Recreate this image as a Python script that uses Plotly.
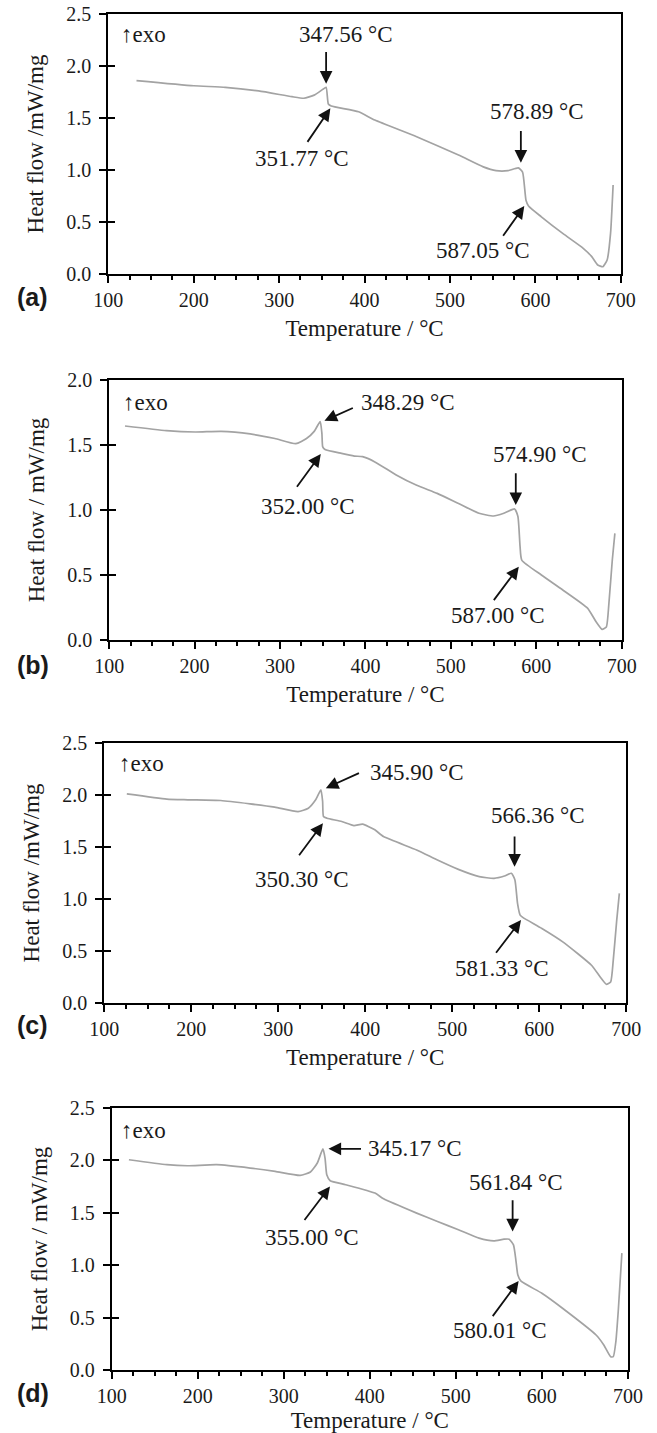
import plotly.graph_objects as go

# ---------------- data ----------------
T_a = [133, 200, 237, 276, 315, 329, 341, 351, 355, 357.6, 361, 393, 412, 461, 510, 539, 554, 568, 580, 585, 589, 592, 607, 632, 656, 666, 673, 679, 684, 688, 691]
HF_a = [1.86, 1.81, 1.795, 1.76, 1.705, 1.69, 1.72, 1.775, 1.795, 1.635, 1.615, 1.56, 1.48, 1.32, 1.144, 1.03, 0.994, 0.994, 1.02, 0.98, 0.71, 0.654, 0.55, 0.39, 0.247, 0.167, 0.087, 0.07, 0.135, 0.39, 0.856]

T_b = [118.5, 167, 201, 231, 265, 294, 318.5, 331, 340, 347, 349, 350, 352.7, 372, 387, 396.6, 411, 436, 460, 484, 509, 533, 550, 562, 574.6, 578.5, 581, 583, 606, 631, 660, 670, 677, 682, 685, 689, 692]
HF_b = [1.646, 1.61, 1.60, 1.605, 1.585, 1.55, 1.51, 1.55, 1.605, 1.68, 1.59, 1.485, 1.465, 1.435, 1.415, 1.41, 1.37, 1.27, 1.19, 1.128, 1.05, 0.975, 0.954, 0.975, 1.008, 0.95, 0.72, 0.615, 0.50, 0.385, 0.245, 0.14, 0.082, 0.10, 0.28, 0.615, 0.82]

T_c = [126, 172, 196, 234, 267.6, 296, 322.7, 334.6, 343, 349, 351, 352, 356, 373, 387, 397, 411, 421, 459, 483, 507, 531, 548, 560, 568, 572, 575, 578, 581, 603, 627, 660, 670, 677, 682, 685, 689, 692]
HF_c = [2.01, 1.96, 1.954, 1.947, 1.915, 1.883, 1.84, 1.873, 1.954, 2.05, 1.94, 1.793, 1.777, 1.745, 1.706, 1.72, 1.665, 1.60, 1.472, 1.375, 1.285, 1.215, 1.199, 1.221, 1.247, 1.183, 0.958, 0.845, 0.823, 0.717, 0.588, 0.363, 0.25, 0.18, 0.202, 0.41, 0.797, 1.054]

T_d = [120, 164, 188, 222, 261, 290, 319, 331, 339, 345.5, 348, 350, 354, 372, 406, 416, 454.5, 478.7, 503, 527, 544, 556, 562, 567, 570, 572, 575.5, 600, 624, 663, 672, 680, 683, 686, 689, 693]
HF_d = [2.006, 1.959, 1.949, 1.959, 1.927, 1.895, 1.857, 1.889, 1.975, 2.11, 2.02, 1.863, 1.806, 1.768, 1.688, 1.634, 1.497, 1.417, 1.338, 1.258, 1.232, 1.248, 1.248, 1.194, 1.035, 0.908, 0.85, 0.732, 0.589, 0.334, 0.239, 0.127, 0.127, 0.271, 0.589, 1.115]

panel_letters = ["(a)", "(b)", "(c)", "(d)"]
y_titles = ["Heat flow /mW/mg", "Heat flow / mW/mg", "Heat flow /mW/mg", "Heat flow / mW/mg"]
x_title = "Temperature / °C"
y_max = [2.5, 2.0, 2.5, 2.5]
x_range = [100, 700]

# annotation texts and their positions (data units)
labels_a = ["↑exo", "347.56 °C", "351.77 °C", "578.89 °C", "587.05 °C"]
lab_x_a = [141, 378, 327, 602, 539]
lab_y_a = [2.30, 2.30, 1.106, 1.567, 0.224]
labels_b = ["↑exo", "348.29 °C", "352.00 °C", "574.90 °C", "587.00 °C"]
lab_x_b = [143, 450, 333, 604, 555]
lab_y_b = [1.83, 1.83, 1.03, 1.43, 0.192]
labels_c = ["↑exo", "345.90 °C", "350.30 °C", "566.36 °C", "581.33 °C"]
lab_x_c = [143, 459, 327.5, 598, 557]
lab_y_c = [2.30, 2.217, 1.189, 1.803, 0.331]
labels_d = ["↑exo", "345.17 °C", "355.00 °C", "561.84 °C", "580.01 °C"]
lab_x_d = [137, 452, 333, 569.7, 551]
lab_y_d = [2.283, 2.11, 1.268, 1.793, 0.373]

# arrows: head (x, y) and tail (x, y)
arr_hx_a = [355, 360, 583, 587]
arr_hy_a = [1.83, 1.593, 1.07, 0.654]
arr_tx_a = [355, 332, 583, 561]
arr_ty_a = [2.15, 1.256, 1.39, 0.353]
arr_hx_b = [352, 347.7, 576, 579.5]
arr_hy_b = [1.687, 1.43, 1.038, 0.564]
arr_tx_b = [387, 318.5, 576, 549]
arr_ty_b = [1.79, 1.167, 1.295, 0.295]
arr_hx_c = [354.7, 351.4, 571.6, 579]
arr_hy_c = [2.066, 1.729, 1.311, 0.797]
arr_tx_c = [394.5, 322.7, 571.6, 549]
arr_ty_c = [2.217, 1.407, 1.616, 0.469]
arr_hx_d = [352, 353.7, 566, 573]
arr_hy_d = [2.11, 1.752, 1.322, 0.85]
arr_tx_d = [391.5, 322.8, 566, 541.6]
arr_ty_d = [2.11, 1.417, 1.634, 0.5]

# ---------------- layout geometry ----------------
W, H = 657, 1433
px_x = [(108.3, 620.8), (109.2, 621.7), (104.2, 626.3), (111.7, 627.9)]
px_y = [(14, 274), (380, 640), (743, 1003), (1108, 1370)]
letter_pos = [(32, 297), (33, 665), (32, 1025), (33, 1393)]

series_T = [T_a, T_b, T_c, T_d]
series_HF = [HF_a, HF_b, HF_c, HF_d]
all_labels = [(labels_a, lab_x_a, lab_y_a), (labels_b, lab_x_b, lab_y_b),
              (labels_c, lab_x_c, lab_y_c), (labels_d, lab_x_d, lab_y_d)]
all_arrows = [(arr_hx_a, arr_hy_a, arr_tx_a, arr_ty_a), (arr_hx_b, arr_hy_b, arr_tx_b, arr_ty_b),
              (arr_hx_c, arr_hy_c, arr_tx_c, arr_ty_c), (arr_hx_d, arr_hy_d, arr_tx_d, arr_ty_d)]

FONT = "Liberation Serif"
TXT = "#1a1a1a"
fig = go.Figure()
annotations = []
layout = {}

for i in range(4):
    n = i + 1
    xa = "x" if n == 1 else f"x{n}"
    ya = "y" if n == 1 else f"y{n}"
    yo = f"y{n + 4}"
    xdom = [px_x[i][0] / W, px_x[i][1] / W]
    ydom = [1 - px_y[i][1] / H, 1 - px_y[i][0] / H]

    fig.add_trace(go.Scatter(x=series_T[i], y=series_HF[i], mode="lines",
                             line=dict(color="#a3a3a3", width=1.7, shape="spline", smoothing=0.5),
                             xaxis=xa, yaxis=ya, showlegend=False, hoverinfo="skip"))
    # invisible trace to activate overlay axis (inner half of the crossing y ticks)
    fig.add_trace(go.Scatter(x=series_T[i], y=series_HF[i], mode="lines",
                             line=dict(color="rgba(0,0,0,0)", width=0),
                             xaxis=xa, yaxis=yo, showlegend=False, hoverinfo="skip"))

    layout["xaxis" if n == 1 else f"xaxis{n}"] = dict(
        domain=xdom, anchor=ya, range=x_range, dtick=100, tick0=100,
        showgrid=False, zeroline=False, showline=True, linecolor="black", linewidth=2,
        mirror=True, ticks="outside", ticklen=7, tickwidth=2, tickcolor="black",
        minor=dict(dtick=25, tick0=100, ticks="outside", ticklen=4, tickwidth=1.5,
                   tickcolor="black", showgrid=False),
        tickfont=dict(family=FONT, size=20, color=TXT),
        title=dict(text=x_title, font=dict(family=FONT, size=23, color=TXT), standoff=10),
        automargin=False,
    )
    layout["yaxis" if n == 1 else f"yaxis{n}"] = dict(
        domain=ydom, anchor=xa, range=[0, y_max[i]], dtick=0.5, tick0=0, tickformat=".1f",
        showgrid=False, zeroline=False, showline=True, linecolor="black", linewidth=2,
        mirror=True, ticks="outside", ticklen=7, tickwidth=2, tickcolor="black",
        tickfont=dict(family=FONT, size=20, color=TXT), ticklabelstandoff=4,
        title=dict(text=y_titles[i], font=dict(family=FONT, size=23, color=TXT), standoff=16),
        automargin=False,
    )
    layout[f"yaxis{n + 4}"] = dict(
        overlaying=ya, anchor=xa, side="left", range=[0, y_max[i]], dtick=0.5, tick0=0,
        showgrid=False, zeroline=False, showline=False, showticklabels=False,
        ticks="inside", ticklen=7, tickwidth=2, tickcolor="black",
    )

    labs, lx, ly = all_labels[i]
    for t, x, y in zip(labs, lx, ly):
        annotations.append(dict(x=x, y=y, xref=xa, yref=ya, text=t, showarrow=False,
                                xanchor="center", yanchor="middle",
                                font=dict(family=FONT, size=23, color=TXT)))
    hx, hy, tx, ty = all_arrows[i]
    for a, b, c, d in zip(hx, hy, tx, ty):
        annotations.append(dict(x=a, y=b, ax=c, ay=d, xref=xa, yref=ya, axref=xa, ayref=ya,
                                text="", showarrow=True, arrowhead=2, arrowsize=1.4,
                                arrowwidth=1.8, arrowcolor="#111", standoff=0))
    annotations.append(dict(x=letter_pos[i][0] / W, y=1 - letter_pos[i][1] / H,
                            xref="paper", yref="paper", text="<b>" + panel_letters[i] + "</b>",
                            showarrow=False, xanchor="center", yanchor="middle",
                            font=dict(family="Liberation Sans", size=25, color=TXT)))

fig.update_layout(**layout)
fig.update_layout(width=W, height=H, autosize=False,
                  margin=dict(l=0, r=0, t=0, b=0),
                  paper_bgcolor="white", plot_bgcolor="white",
                  font=dict(family=FONT, color=TXT),
                  annotations=annotations, showlegend=False)

fig.write_html("out.html", config={"displayModeBar": False},
               post_script="document.body.style.margin='0';")
